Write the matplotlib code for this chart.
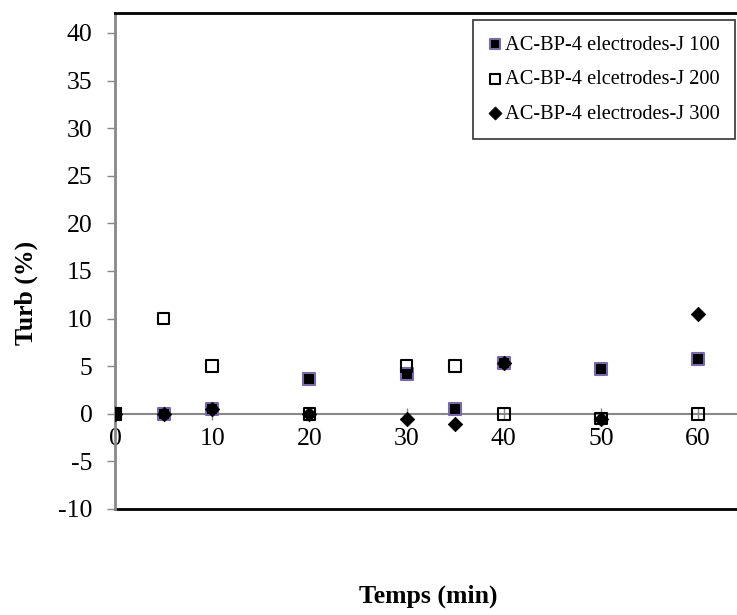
import matplotlib
matplotlib.use('Agg')
import matplotlib.pyplot as plt

# data
temps = [0, 5, 10, 20, 30, 35, 40, 50, 60]
j100 = [0, 0, 0.5, 3.7, 4.2, 0.5, 5.3, 4.7, 5.8]
j200 = [0, 10, 5, 0, 5, 5, 0, -0.5, 0]
j300 = [0, 0, 0.5, 0, -0.5, -1.1, 5.3, -0.5, 10.5]

labels = ['AC-BP-4 electrodes-J 100',
          'AC-BP-4 elcetrodes-J 200',
          'AC-BP-4 electrodes-J 300']
x_ticks = [0, 10, 20, 30, 40, 50, 60]
y_ticks = [-10, -5, 0, 5, 10, 15, 20, 25, 30, 35, 40]

plt.rcParams['font.family'] = ['Liberation Serif', 'DejaVu Serif']
plt.rcParams['axes.unicode_minus'] = False

fig = plt.figure(figsize=(7.37, 6.15), dpi=100)
ax = fig.add_axes([0.156, 0.1724, 0.844, 0.8065])

ax.scatter(temps, j100, marker='s', s=70, facecolor='black', edgecolor='#7b68a8',
           linewidth=1.5, label=labels[0], zorder=3)
ax.scatter(temps, j200, marker='s', s=70, facecolor='none', edgecolor='black',
           linewidth=1.5, label=labels[1], zorder=4)
ax.scatter(temps, j300, marker='D', s=55, facecolor='black', edgecolor='black',
           linewidth=0.5, label=labels[2], zorder=5)

ax.set_xlim(0, 64)
ax.set_ylim(-10, 42.1)

# x axis drawn through zero
ax.spines['bottom'].set_position(('data', 0))
ax.spines['bottom'].set_color('#888888')
ax.spines['bottom'].set_linewidth(1.5)
ax.spines['left'].set_color('#888888')
ax.spines['left'].set_linewidth(2)
ax.spines['top'].set_color('black')
ax.spines['top'].set_linewidth(2)
ax.spines['right'].set_visible(False)
# bottom frame line of plot area
ax.axhline(-10, color='black', linewidth=2, clip_on=False, zorder=1)

ax.set_xticks(x_ticks)
ax.set_yticks(y_ticks)
ax.tick_params(axis='x', direction='inout', length=8, color='#888888', width=1,
               labelsize=18.5, pad=6)
ax.tick_params(axis='y', direction='out', length=6, color='#888888', width=1,
               labelsize=18.5, pad=10)

fig.text(0.035, 0.523, 'Turb (%)', rotation=90, ha='center', va='center',
         fontsize=18.5, fontweight='bold')
fig.text(0.581, 0.031, 'Temps (min)', ha='center', va='center',
         fontsize=18.5, fontweight='bold')

leg = ax.legend(loc='upper right', bbox_to_anchor=(0.997, 0.986), borderaxespad=0,
                fontsize=14.7, frameon=True, fancybox=False, labelspacing=0.75,
                handlelength=0.6, handletextpad=0.2, borderpad=0.75,
                markerscale=0.9)
leg.get_frame().set_edgecolor('black')
leg.get_frame().set_linewidth(1.2)

fig.savefig('out.png', dpi=100)
